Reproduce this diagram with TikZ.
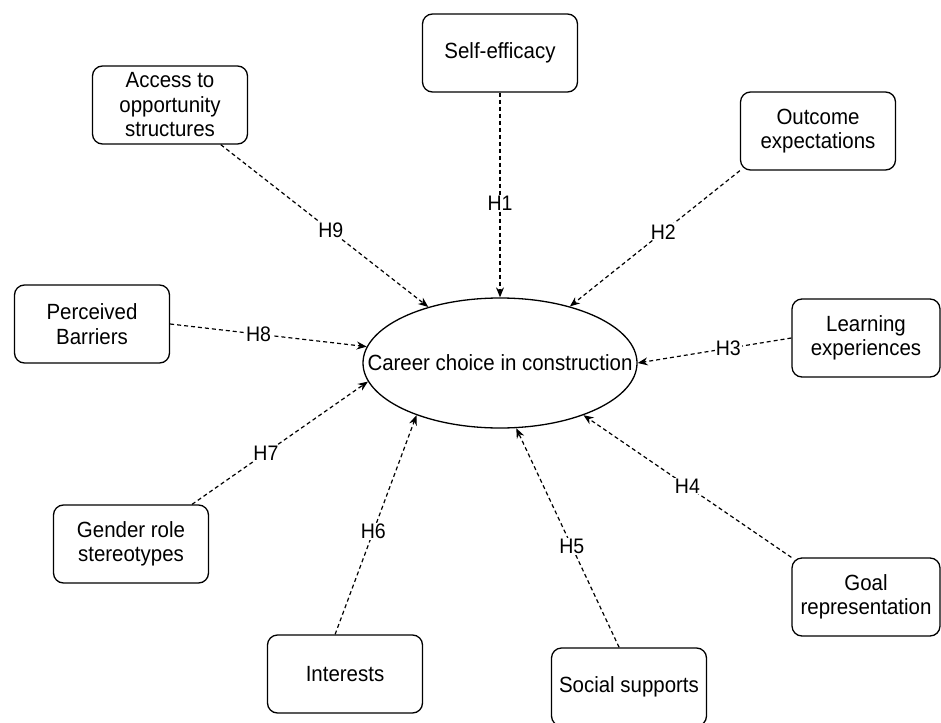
\documentclass[tikz,border=0pt]{standalone}
\usepackage{fontspec}
\setmainfont[FakeStretch=0.93]{Liberation Sans}
\usetikzlibrary{shapes.geometric,arrows.meta}
\begin{document}
\begin{tikzpicture}[x=1pt,y=-1pt,
 txt/.style={font=\fontsize{22}{24.5}\selectfont},
 box/.style={draw, rounded corners=10pt, line width=1.3pt, minimum width=155pt, minimum height=78pt, align=center, txt, inner sep=0pt},
 link/.style={line width=1.2pt, dash pattern=on 4pt off 3pt, -{Stealth[length=10pt,width=8pt]}},
 hl/.style={fill=white, inner sep=1pt, font=\fontsize{21}{21}\selectfont}]
\useasboundingbox (0,0) rectangle (941,722);
\node[draw, ellipse, line width=1.3pt, minimum width=274pt, minimum height=130pt, inner sep=0pt, txt] (cc) at (500,363) {\makebox[0pt]{Career choice in construction}};
\node[box] (se) at (500,53) {Self-efficacy};
\node[box] (ac) at (170,105) {Access to\\opportunity\\structures};
\node[box] (oe) at (818,131) {Outcome\\expectations};
\node[box] (pb) at (92,324) {Perceived\\Barriers};
\node[box, minimum width=148pt] (le) at (866,338) {Learning\\experiences};
\node[box] (gs) at (131,544) {Gender role\\stereotypes};
\node[box, minimum width=148pt] (gr) at (866,597) {Goal\\representation};
\node[box] (in) at (345,674) {Interests};
\node[box] (ss) at (629,687) {Social supports};
\draw[link] (se.south) -- node[hl, pos=0.54] {H1} (cc.90);
\draw[link] (oe.south west) -- node[hl, pos=0.45] {H2} (cc.39.6);
\draw[link] (le.west) -- node[hl, pos=0.41] {H3} (cc.0);
\draw[link] (gr.north west) -- node[hl, pos=0.5] {H4} (cc.328);
\draw[link] (ss.104) -- node[hl, pos=0.46] {H5} (cc.284);
\draw[link] (in.104) -- node[hl, pos=0.47] {H6} (cc.212.7);
\draw[link] (gs.33) -- node[hl, pos=0.42] {H7} (cc.188.8);
\draw[link] (pb.east) -- node[hl, pos=0.45] {H8} (cc.173.6);
\draw[link] (ac.-38) -- node[hl, pos=0.53] {H9} (cc.142.1);
\end{tikzpicture}
\end{document}
